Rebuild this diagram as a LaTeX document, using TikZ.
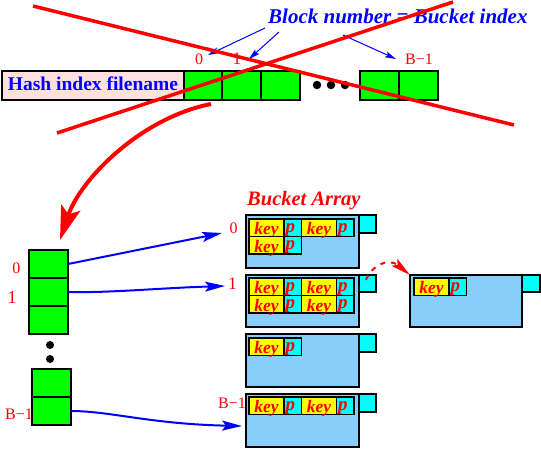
\documentclass[tikz,border=0pt]{standalone}
\usepackage{fontspec}
\setmainfont{Liberation Serif}
\usetikzlibrary{arrows.meta}
\definecolor{hgreen}{RGB}{0,255,0}
\definecolor{hpink}{RGB}{255,224,224}
\definecolor{hsky}{RGB}{135,206,250}
\definecolor{hcyan}{RGB}{0,255,255}
\definecolor{hyellow}{RGB}{255,255,0}
\definecolor{hred}{RGB}{255,0,0}
\definecolor{hblue}{RGB}{0,0,255}
\newcommand{\myfs}[1]{\fontsize{#1}{#1}\selectfont}
\newcommand{\mybox}[6]{\node[rbox,fill=#6,minimum width={#4-#2},minimum height={#5-#3}] (#1) at (#2,#3) {};}
\newcommand{\kp}[3]{%
  \node[rbox,fill=hyellow,minimum width=35,minimum height=17.5,keytxt] (#1k) at (#2,#3) {key};
  \node[rbox,fill=hcyan,minimum width=17.5,minimum height=17.5,ptxt] (#1p) at (#1k.north east) {p\kern5pt};}
\tikzset{
  rbox/.style={draw=black,line width=1.1pt,inner sep=0pt,outer sep=0pt,anchor=north west},
  keytxt/.style={text=hred,font=\myfs{17.5}\bfseries\itshape,text height=15.5pt,text depth=2pt},
  ptxt/.style={text=hred,font=\myfs{19}\bfseries\itshape,text height=13pt,text depth=4.5pt},
  lbl/.style={text=hred,font=\myfs{16},inner sep=0pt,anchor=base},
  barrow/.style={draw=hblue,line width=2pt,-{Stealth[length=20pt,width=10pt,inset=4pt]}},
  tarrow/.style={draw=hblue,line width=1pt,-{Stealth[length=11pt,width=6pt,inset=2pt]}},
  cross/.style={draw=hred,line width=3.5pt},
  dot/.style={circle,fill=black,inner sep=0pt,minimum size=8.5pt},
}
\begin{document}
\begin{tikzpicture}[x=1pt,y=-1pt]
\useasboundingbox (0,0) rectangle (541,448);
% ---------- top row ----------
\node[rbox,fill=hpink,minimum width=182,minimum height=29,text=hblue,
      font=\myfs{19.5}\bfseries,text height=13pt,text depth=4pt] (hf) at (2,71) {Hash index filename};
\mybox{g0}{184}{71}{222}{100}{hgreen}
\mybox{g1}{222}{71}{261}{100}{hgreen}
\mybox{g2}{261}{71}{300}{100}{hgreen}
\mybox{g3}{360}{71}{399}{100}{hgreen}
\mybox{g4}{399}{71}{438}{100}{hgreen}
\node[dot] (d1) at (317,85) {};
\node[dot] (d2) at (331,85) {};
\node[dot] (d3) at (345,85) {};
\node[lbl] (t0) at (199,64) {0};
\node[lbl,font=\myfs{17.5}] (t1) at (237,64) {1};
\node[lbl] (tb) at (419,64) {B−1};
\node[text=hblue,font=\myfs{21}\bfseries\itshape,inner sep=0pt,anchor=base west] (bn) at (268,23.5) {Block number = Bucket index};
\coordinate (s1) at (265,28);
\coordinate (s2) at (279,32);
\coordinate (s3) at (343,35);
\coordinate (e1) at (208,55);
\coordinate (e2) at (249,59);
\coordinate (e3) at (396,59);
\draw[tarrow] (s1) -- (e1);
\draw[tarrow] (s2) -- (e2);
\draw[tarrow] (s3) -- (e3);
% ---------- left column ----------
\mybox{c0}{29}{250}{68}{278}{hgreen}
\mybox{c1}{29}{278}{68}{306}{hgreen}
\mybox{c2}{29}{306}{68}{334}{hgreen}
\mybox{cb0}{32}{369}{71}{397}{hgreen}
\mybox{cb1}{32}{397}{71}{425}{hgreen}
\node[dot,minimum size=8pt] (d4) at (50,345) {};
\node[dot,minimum size=8pt] (d5) at (50,359) {};
\node[lbl] (l0) at (16.5,273) {0};
\node[lbl,font=\myfs{18}] (l1) at (12,303.5) {1};
\node[lbl] (lb) at (19,419) {B−1};
% ---------- buckets ----------
\node[text=hred,font=\myfs{20.5}\bfseries\itshape,inner sep=0pt,anchor=base west] (ba) at (247,205) {Bucket Array};
\node[lbl] (r0) at (233.5,233) {0};
\node[lbl,font=\myfs{17.5}] (r1) at (232.5,289.5) {1};
\node[lbl] (rb) at (232,408) {B−1};
\mybox{b0}{246}{215}{359}{268}{hsky}
\mybox{q0}{359}{215}{376}{233}{hcyan}
\kp{e00}{249}{219}
\kp{e01}{301.5}{219}
\kp{e02}{249}{236.5}
\mybox{b1}{246}{275}{359}{327}{hsky}
\mybox{q1}{359}{275}{376}{292}{hcyan}
\kp{e10}{249}{278}
\kp{e11}{301.5}{278}
\kp{e12}{249}{295.5}
\kp{e13}{301.5}{295.5}
\mybox{b2}{246}{334}{359}{387}{hsky}
\mybox{q2}{359}{334}{376}{352}{hcyan}
\kp{e20}{249}{338}
\mybox{b3}{246}{394}{359}{447}{hsky}
\mybox{q3}{359}{394}{376}{412}{hcyan}
\kp{e30}{249}{397}
\kp{e31}{301.5}{397}
\mybox{ov}{410}{275}{522}{327}{hsky}
\mybox{q4}{522}{275}{540}{292}{hcyan}
\kp{e40}{414}{278}
% ---------- connectors ----------
\coordinate (a0) at (222,233);
\coordinate (a1) at (225,286);
\coordinate (a3) at (242,426);
\draw[barrow] (c0.east) -- (a0);
\draw[barrow] (c1.east) .. controls (110,293) and (160,288) .. (a1);
\draw[barrow] (cb1.east) .. controls (110,411) and (150,424) .. (a3);
\coordinate (qs) at (366,280);
\draw[draw=hred,line width=2pt,dash pattern=on 5pt off 6pt,
      -{Stealth[length=20pt,width=9pt,inset=4pt]}] (qs) .. controls (371,266) and (388,257) .. (ov.north west);
\coordinate (rs) at (211,104);
\coordinate (rt) at (60,240);
\draw[draw=hred,line width=4pt,-{Stealth[length=34pt,width=20pt,inset=7pt]}] (rs) .. controls (140,118) and (80,180) .. (rt);
% ---------- cross-out ----------
\coordinate (x1a) at (33,6);
\coordinate (x1b) at (514,125);
\coordinate (x2a) at (57,133);
\coordinate (x2b) at (453,2);
\draw[cross] (x1a) -- (x1b);
\draw[cross] (x2a) -- (x2b);
\end{tikzpicture}
\end{document}
